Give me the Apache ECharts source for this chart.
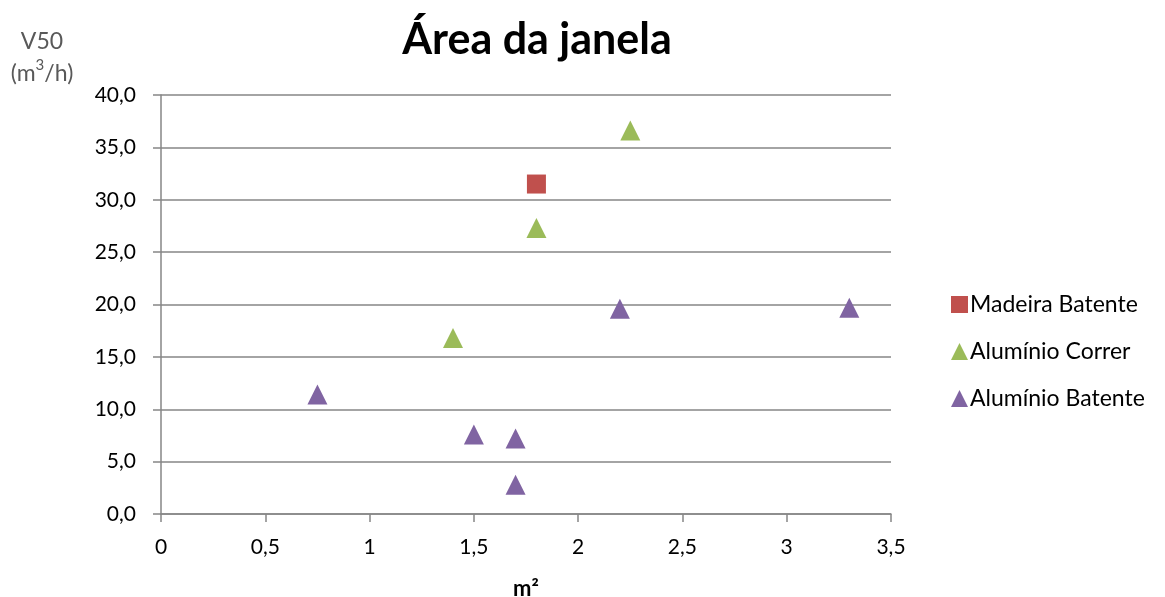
<!DOCTYPE html>
<html>
<head>
<meta charset="utf-8">
<script src="https://cdn.jsdelivr.net/npm/echarts@6/dist/echarts.min.js"></script>
<style>
  html, body { margin: 0; padding: 0; background: #fff; }
  #chart { width: 1165px; height: 597px; }
</style>
</head>
<body>
<div id="chart"></div>
<script>
// Window area (m²) vs. air flow V50 (m³/h)
const seriesNames = ['Madeira Batente', 'Alumínio Correr', 'Alumínio Batente'];
const madeiraBatente = [[1.8, 31.5]];
const aluminioCorrer = [[2.25, 36.6], [1.8, 27.3], [1.4, 16.8]];
const aluminioBatente = [[0.75, 11.4], [1.5, 7.6], [1.7, 7.2], [1.7, 2.8], [2.2, 19.6], [3.3, 19.7]];
const xTicks = { min: 0, max: 3.5, step: 0.5 };
const yTicks = { min: 0, max: 40, step: 5 };

const FONT = 'Lato, "Open Sans", sans-serif';
const GRID_COLOR = '#868686';

const chart = echarts.init(document.getElementById('chart'), null, { renderer: 'canvas' });

chart.setOption({
  animation: false,
  backgroundColor: '#ffffff',
  textStyle: { fontFamily: FONT },
  title: {
    text: 'Área da janela',
    left: 532,
    top: 14,
    textAlign: 'center',
    textStyle: { fontFamily: FONT, fontSize: 43, fontWeight: 'bold', color: '#000' }
  },
  grid: { left: 161, right: 274, top: 95, bottom: 83, containLabel: false, outerBoundsMode: 'none' },
  legend: {
    orient: 'vertical',
    left: 946,
    top: 288,
    itemWidth: 17,
    itemHeight: 17,
    itemGap: 24,
    textStyle: { fontFamily: FONT, fontSize: 23, color: '#000', padding: [0, 0, 0, -3] },
    data: [
      { name: seriesNames[0], icon: 'rect' },
      { name: seriesNames[1], icon: 'triangle' },
      { name: seriesNames[2], icon: 'triangle' }
    ]
  },
  xAxis: {
    type: 'value',
    min: xTicks.min,
    max: xTicks.max,
    interval: xTicks.step,
    name: 'm²',
    nameLocation: 'middle',
    nameGap: 64,
    nameTextStyle: { fontFamily: FONT, fontSize: 22, fontWeight: 'bold', color: '#000' },
    axisLine: { show: true, onZero: false, lineStyle: { color: GRID_COLOR, width: 1.5 } },
    axisTick: { show: true, length: 8, lineStyle: { color: GRID_COLOR, width: 1.5 } },
    axisLabel: {
      margin: 23,
      fontFamily: FONT, fontSize: 21, color: '#000',
      formatter: v => String(v).replace('.', ',')
    },
    splitLine: { show: false }
  },
  yAxis: {
    type: 'value',
    min: yTicks.min,
    max: yTicks.max,
    interval: yTicks.step,
    name: 'V50\n(m{sup|3}/h)',
    nameLocation: 'end',
    nameGap: 5,
    nameMoveOverlap: false,
    nameTextStyle: {
      fontFamily: FONT, fontSize: 23, color: '#595959', lineHeight: 32,
      align: 'center', padding: [0, 238, 0, 0],
      rich: { sup: { fontFamily: FONT, fontSize: 15, color: '#595959', verticalAlign: 'top', lineHeight: 32, padding: [0, 0, 9, 0] } }
    },
    axisLine: { show: true, lineStyle: { color: GRID_COLOR, width: 1.5 } },
    axisTick: { show: true, length: 8, lineStyle: { color: GRID_COLOR, width: 1.5 } },
    axisLabel: {
      margin: 25,
      fontFamily: FONT, fontSize: 21, color: '#000',
      formatter: v => v.toFixed(1).replace('.', ',')
    },
    splitLine: { show: true, lineStyle: { color: GRID_COLOR, width: 1.5 } }
  },
  series: [
    {
      name: seriesNames[0], type: 'scatter', symbol: 'rect', symbolSize: 19,
      itemStyle: { color: '#C0504D', opacity: 1 }, data: madeiraBatente
    },
    {
      name: seriesNames[1], type: 'scatter', symbol: 'triangle', symbolSize: 20,
      itemStyle: { color: '#9BBB59', opacity: 1 }, data: aluminioCorrer
    },
    {
      name: seriesNames[2], type: 'scatter', symbol: 'triangle', symbolSize: 20,
      itemStyle: { color: '#8064A2', opacity: 1 }, data: aluminioBatente
    }
  ]
});
</script>
</body>
</html>
